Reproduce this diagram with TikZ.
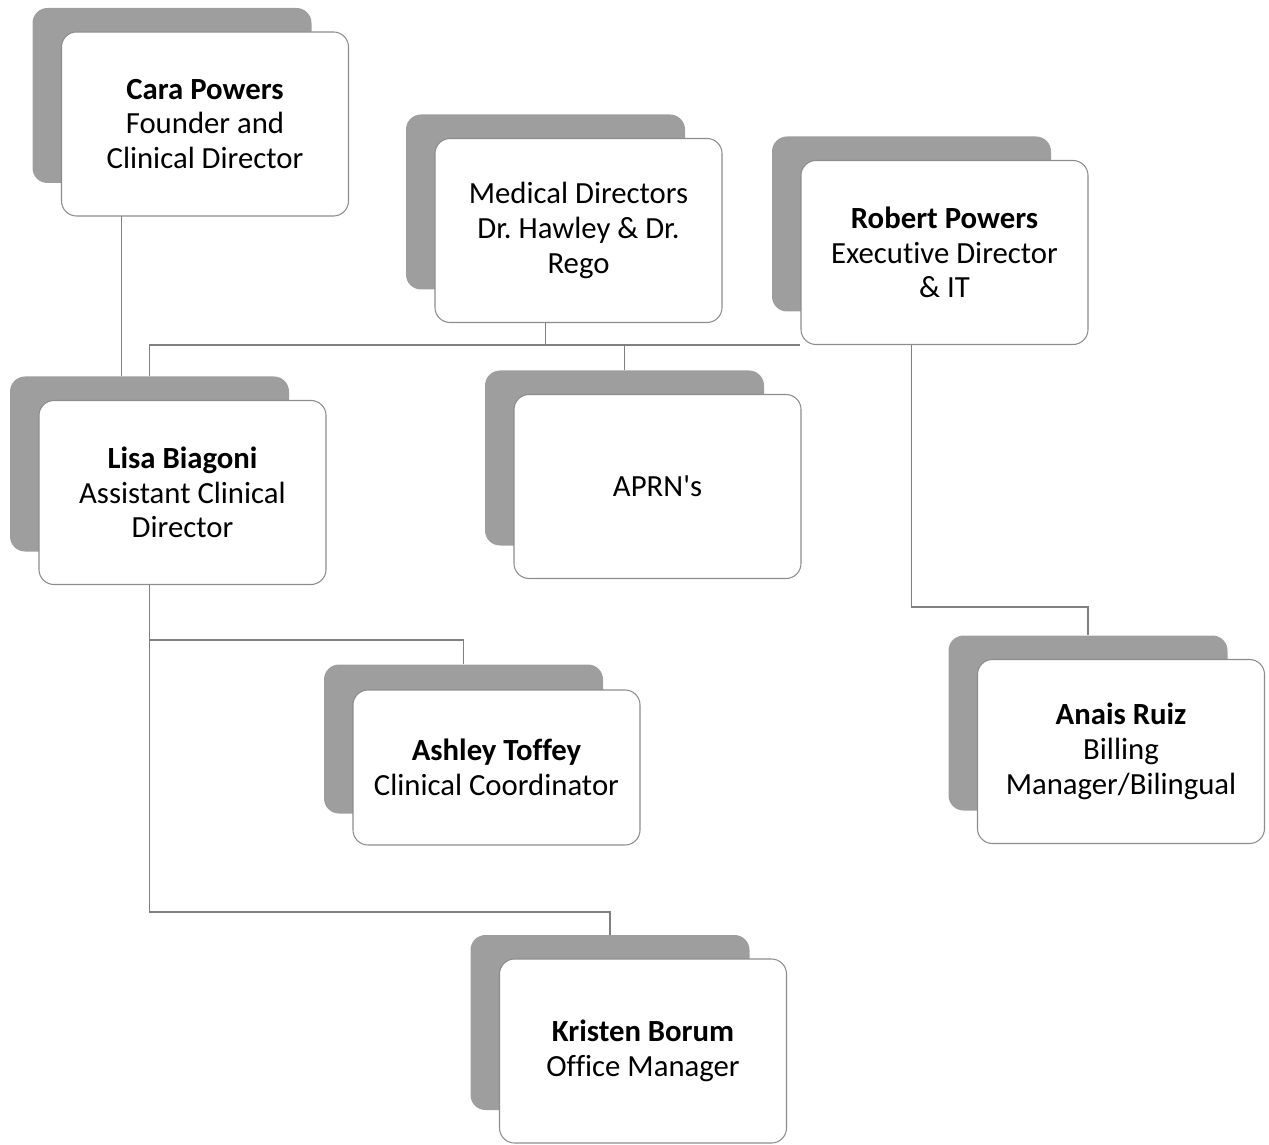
\documentclass[tikz,border=0pt]{standalone}
\usepackage{fontspec}
\setmainfont{Carlito}[Ligatures=NoCommon]
\usetikzlibrary{backgrounds}

\tikzset{
  back/.style={fill=black!38, rounded corners=0.3cm, minimum width=5.58cm, minimum height=3.5cm, inner sep=0pt},
  card/.style={draw=black!45, line width=0.6pt, fill=white, rounded corners=0.3cm, minimum width=5.74cm, minimum height=3.68cm, align=center, inner sep=0pt, font=\fontsize{17.5}{19.8}\selectfont},
  link/.style={draw=black!50, line width=0.7pt}
}

\begin{document}
\begin{tikzpicture}
        \useasboundingbox (0,0) rectangle (25.38,22.88);

        \node[back] (cara-s) at (3.44,20.97) {};
        \node[card] (cara) at (3.44+0.66,20.97-0.57) {\textbf{Cara Powers}\\Founder and\\Clinical Director};

        \node[back] (med-s) at (10.91,18.84) {};
        \node[card] (med) at (10.91+0.66,18.84-0.57) {Medical Directors\\Dr.\ Hawley \& Dr.\\Rego};

        \node[back] (robert-s) at (18.23,18.40) {};
        \node[card] (robert) at (18.23+0.66,18.40-0.57) {\textbf{Robert Powers}\\Executive Director\\\& IT};

        \node[back] (lisa-s) at (2.99,13.60) {};
        \node[card] (lisa) at (2.99+0.66,13.60-0.57) {\textbf{Lisa Biagoni}\\Assistant Clinical\\Director};

        \node[back] (aprn-s) at (12.49,13.72) {};
        \node[card] (aprn) at (12.49+0.66,13.72-0.57) {APRN\textquotesingle s};

        \node[back, minimum height=2.98cm] (ashley-s) at (9.27,8.10) {};
        \node[card, minimum height=3.10cm] (ashley) at (9.27+0.66,8.10-0.57) {\textbf{Ashley Toffey}\\Clinical Coordinator};

        \node[back] (anais-s) at (21.76,8.42) {};
        \node[card] (anais) at (21.76+0.66,8.42-0.57) {\textbf{Anais Ruiz}\\Billing\\Manager/Bilingual};

        \node[back] (kristen-s) at (12.20,2.43) {};
        \node[card] (kristen) at (12.20+0.66,2.43-0.57) {\textbf{Kristen Borum}\\Office Manager};

        \begin{scope}[on background layer]
        \draw[link] ([xshift=-1.01cm]cara-s.center) -- ([xshift=-1.01cm]cara-s.center |- lisa-s.north);
        \draw[link] (lisa-s.north) |- (robert.south west);
        \draw[link] (med-s) -- (med-s |- robert.south west);
        \draw[link] (aprn-s.north) -- (aprn-s |- robert.south west);
        \draw[link] (robert-s) -- ++(0,-7.66) -| (anais-s.north);
        \draw[link] (lisa-s) -- ++(0,-3.52) -| (ashley-s.north);
        \draw[link] (lisa-s) -- ++(0,-8.96) -| (kristen-s.north);
        \end{scope}
\end{tikzpicture}
\end{document}
